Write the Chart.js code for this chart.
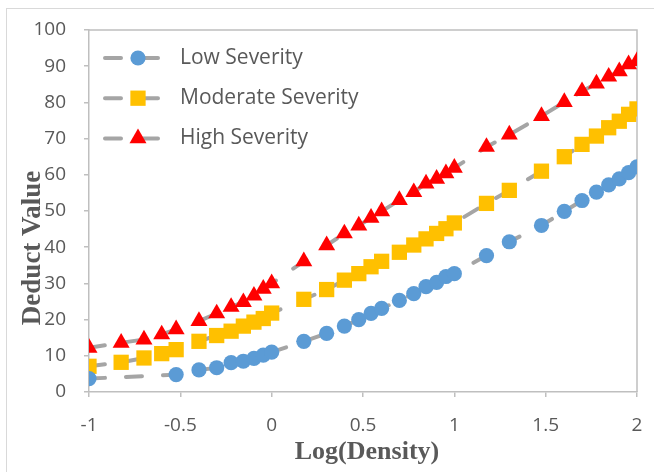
<!DOCTYPE html>
<html><head><meta charset="utf-8">
<script src="https://cdn.jsdelivr.net/npm/chart.js@4/dist/chart.umd.min.js"></script>
<style>html,body{margin:0;padding:0;background:#fff;overflow:hidden}#wrap{width:654px;height:472px;position:relative}</style>
</head><body><div id="wrap"><canvas id="c" width="654" height="472"></canvas></div>
<script>
// x positions: log10 of density
const logDensity = [-1, -0.824, -0.699, -0.602, -0.523, -0.398, -0.301, -0.222, -0.155, -0.097, -0.046, 0,
  0.176, 0.301, 0.398, 0.477, 0.544, 0.602, 0.699, 0.778, 0.845, 0.903, 0.954, 1,
  1.176, 1.301, 1.477, 1.602, 1.699, 1.778, 1.845, 1.903, 1.954, 2];
const lowSeverity = [3.7, null, null, null, 4.8, 6.1, 6.7, 8.1, 8.5, 9.3, 10.2, 11.0,
  14.0, 16.2, 18.2, 20.0, 21.7, 23.1, 25.3, 27.2, 29.1, 30.3, 31.9, 32.7,
  37.7, 41.5, 46.0, 49.9, 52.9, 55.2, 57.2, 58.9, 60.6, 62.2];
const moderateSeverity = [7.1, 8.2, 9.4, 10.6, 11.7, 14.0, 15.6, 16.8, 18.2, 19.3, 20.3, 21.8,
  25.6, 28.3, 30.9, 32.7, 34.6, 36.1, 38.6, 40.6, 42.3, 43.8, 45.1, 46.7,
  52.1, 55.7, 61.0, 65.0, 68.4, 70.7, 73.0, 74.8, 76.7, 78.2];
const highSeverity = [12.2, 13.6, 14.5, 15.9, 17.3, 19.6, 21.7, 23.5, 24.8, 26.6, 28.5, 30.0,
  36.1, 40.5, 43.8, 46.0, 48.1, 49.9, 53.0, 55.2, 57.6, 58.9, 60.4, 61.9,
  67.7, 71.1, 76.2, 80.1, 83.1, 85.2, 87.1, 88.6, 90.5, 91.4];
const seriesNames = ['Low Severity', 'Moderate Severity', 'High Severity'];
const xTicks = [-1, -0.5, 0, 0.5, 1, 1.5, 2];
const yTicks = [0, 10, 20, 30, 40, 50, 60, 70, 80, 90, 100];
const xTitle = 'Log(Density)';
const yTitle = 'Deduct Value';

const LINE = '#A5A5A5';
const TXT = '#595959';
const AX = '#BFBFBF';
const styles = [
  {color: '#5B9BD5', pointStyle: 'circle', radius: 7.6},
  {color: '#FFC000', pointStyle: 'rect', radius: 10.8},
  {color: '#FF0000', pointStyle: 'triangle', radius: 9.8}
];
const seriesValues = [lowSeverity, moderateSeverity, highSeverity];
const toPts = vals => logDensity.map((x, i) => ({x: x, y: vals[i]}));

const datasets = seriesValues.map((vals, i) => ({
  label: seriesNames[i],
  data: toPts(vals),
  borderColor: LINE,
  borderWidth: 4,
  borderDash: [16, 21],
  borderCapStyle: 'round',
  pointStyle: styles[i].pointStyle,
  pointRadius: styles[i].radius,
  pointBackgroundColor: styles[i].color,
  pointBorderColor: styles[i].color,
  pointBorderWidth: 0,
  spanGaps: true,
  tension: 0,
  fill: false
}));

const deco = {
  id: 'deco',
  beforeDraw(chart) {
    const ctx = chart.ctx;
    ctx.save();
    ctx.fillStyle = '#fff';
    ctx.fillRect(0, 0, chart.width, chart.height);
    ctx.strokeStyle = '#D9D9D9';
    ctx.lineWidth = 1;
    ctx.strokeRect(6.5, 8.5, 700, 520);
    ctx.restore();
  },
  beforeDatasetsDraw(chart) {
    const ctx = chart.ctx, a = chart.chartArea;
    ctx.save();
    ctx.strokeStyle = AX;
    ctx.lineWidth = 1.5;
    ctx.beginPath();
    ctx.moveTo(a.left, a.top);
    ctx.lineTo(a.right, a.top);
    ctx.lineTo(a.right, a.bottom);
    ctx.stroke();
    ctx.restore();
  },
  afterDraw(chart) {
    const ctx = chart.ctx;
    ctx.save();
    // legend
    seriesNames.forEach((name, i) => {
      const y = 58 + i * 40.2;
      ctx.strokeStyle = LINE;
      ctx.lineWidth = 4;
      ctx.lineCap = 'round';
      ctx.setLineDash([16, 21]);
      ctx.beginPath();
      ctx.moveTo(105, y);
      ctx.lineTo(158, y);
      ctx.stroke();
      ctx.setLineDash([]);
      ctx.fillStyle = styles[i].color;
      ctx.strokeStyle = styles[i].color;
      Chart.helpers.drawPoint(ctx, {pointStyle: styles[i].pointStyle, radius: styles[i].radius, rotation: 0, borderWidth: 0}, 138, y);
      ctx.fillStyle = TXT;
      ctx.font = '21px "Open Sans"';
      ctx.textBaseline = 'middle';
      ctx.textAlign = 'left';
      ctx.fillText(name, 180, y);
    });
    // axis titles
    ctx.fillStyle = TXT;
    ctx.font = 'bold 26px "Liberation Serif"';
    ctx.textAlign = 'center';
    ctx.textBaseline = 'middle';
    ctx.fillText(xTitle, 367, 452);
    ctx.translate(33, 248);
    ctx.rotate(-Math.PI / 2);
    ctx.font = 'bold 27px "Liberation Serif"';
    ctx.fillText(yTitle, 0, 0);
    ctx.restore();
  }
};

new Chart(document.getElementById('c'), {
  type: 'line',
  data: {datasets: datasets},
  options: {
    responsive: false,
    animation: false,
    devicePixelRatio: 1,
    layout: {padding: {top: 30, right: 17, left: 0, bottom: 0}},
    plugins: {legend: {display: false}, tooltip: {enabled: false}},
    scales: {
      x: {
        type: 'linear', min: -1, max: 2,
        afterFit: s => { s.height = 80; s.paddingLeft = 0; s.paddingRight = 0; },
        afterBuildTicks: s => { s.ticks = xTicks.map(v => ({value: v})); },
        ticks: {font: {family: 'Open Sans', size: 19}, color: TXT, padding: 17, maxRotation: 0, autoSkip: false,
          callback: v => String(v)},
        grid: {drawOnChartArea: false, drawTicks: true, tickLength: 5, color: AX, lineWidth: 1.5},
        border: {color: AX, width: 1.5}
      },
      y: {
        type: 'linear', min: 0, max: 100,
        afterFit: s => { s.width = 89; s.paddingTop = 0; s.paddingBottom = 0; },
        afterBuildTicks: s => { s.ticks = yTicks.map(v => ({value: v})); },
        ticks: {font: {family: 'Open Sans', size: 19}, color: TXT, padding: 18, autoSkip: false,
          callback: v => String(v)},
        grid: {drawOnChartArea: false, drawTicks: true, tickLength: 5, color: AX, lineWidth: 1.5},
        border: {color: AX, width: 1.5}
      }
    }
  },
  plugins: [deco]
});
</script></body></html>
